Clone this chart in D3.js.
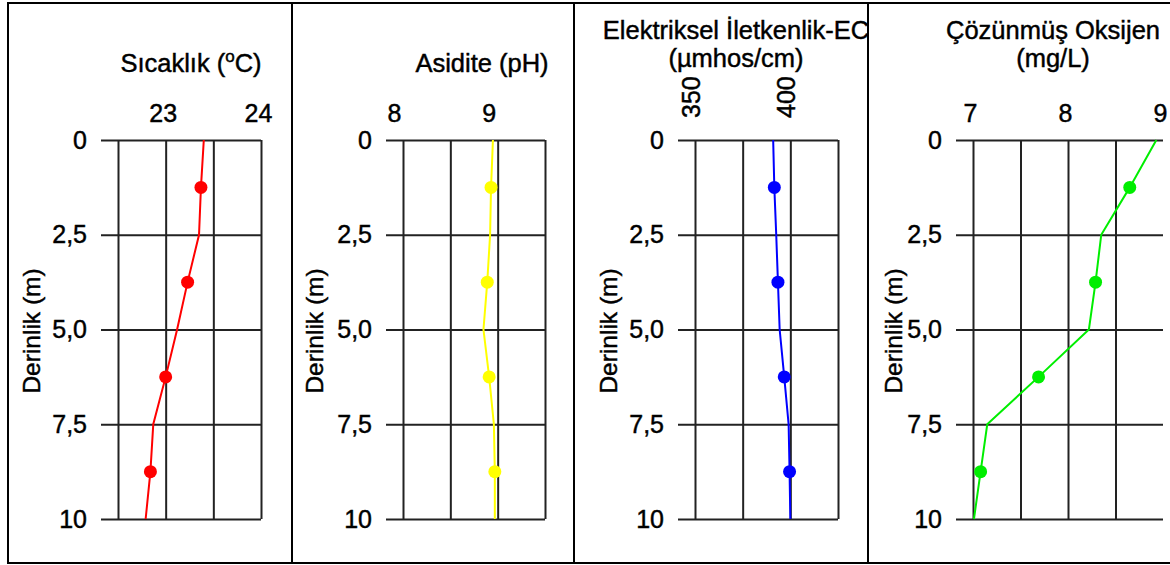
<!DOCTYPE html>
<html>
<head>
<meta charset="utf-8">
<script src="https://cdn.jsdelivr.net/npm/d3@7"></script>
<style>
  body { margin: 0; background: #fff; }
  text { font-family: "Liberation Sans", Arial, sans-serif; fill: #000; stroke: #000; stroke-width: 0.45px; }
</style>
</head>
<body>
<div id="chart"></div>
<script>
// depth profile (m) - line goes through every depth, dots only on the measured ones
const depths = [0, 1.25, 2.5, 3.75, 5, 6.25, 7.5, 8.75, 10];
const markerDepths = [1.25, 3.75, 6.25, 8.75];

const temperature = [23.40, 23.37, 23.35, 23.23, 23.12, 23.00, 22.87, 22.84, 22.79];
const ph = [8.95, 8.93, 8.92, 8.89, 8.85, 8.91, 8.96, 8.97, 8.97];
const ec = [391.0, 391.6, 392.6, 393.5, 394.4, 396.8, 399.1, 399.6, 400.0];
const oxygen = [8.93, 8.65, 8.35, 8.29, 8.22, 7.69, 7.15, 7.08, 7.01];

const depthTicks = [0, 2.5, 5, 7.5, 10];
const depthLabels = ["0", "2,5", "5,0", "7,5", "10"];

const tempGrid = [22.5, 23, 23.5, 24], tempLabels = [23, 24];
const phGrid = [8, 8.5, 9, 9.5], phLabels = [8, 9];
const ecGrid = [350, 375, 400, 425], ecLabels = [350, 400];
const oxyGrid = [7, 7.5, 8, 8.5], oxyLabels = [7, 8, 9];

const w = 1170, h = 565;
const plotTop = 140, plotBottom = 519;

const svg = d3.select("#chart").append("svg")
  .attr("width", w)
  .attr("height", h);

// outer frame + dividers
svg.append("rect")
  .attr("x", 8).attr("y", 3)
  .attr("width", 1180).attr("height", 560)
  .attr("fill", "none").attr("stroke", "#000").attr("stroke-width", 2);
[292, 574, 868].forEach(x => {
  svg.append("line")
    .attr("x1", x).attr("x2", x).attr("y1", 3).attr("y2", 563)
    .attr("stroke", "#000").attr("stroke-width", 2);
});

const yScale = d3.scaleLinear().domain([0, 10]).range([plotTop, plotBottom]);

const panels = [
  { values: temperature, color: "#ff0000", domain: [22.5, 24], left: 118, right: 261,
    grid: tempGrid, labels: tempLabels, shift: -3, yTitleX: 40,
    title: ["Sıcaklık"], titleX: 191 },
  { values: ph, color: "#ffff00", domain: [8, 9.5], left: 403, right: 545,
    grid: phGrid, labels: phLabels, shift: -9, yTitleX: 323,
    title: ["Asidite (pH)"], titleX: 482 },
  { values: ec, color: "#0000ff", domain: [350, 425], left: 695, right: 838,
    grid: ecGrid, labels: ecLabels, shift: -5, yTitleX: 617, rotate: true,
    title: ["Elektriksel İletkenlik-EC", "(µmhos/cm)"], titleX: 736 },
  { values: oxygen, color: "#00ee00", domain: [7, 9], left: 973, right: 1163,
    grid: oxyGrid, labels: oxyLabels, shift: -3, yTitleX: 902,
    title: ["Çözünmüş Oksijen", "(mg/L)"], titleX: 1053 }
];

panels.forEach((p, pi) => {
  const x = d3.scaleLinear().domain(p.domain).range([p.left, p.right]);
  const hStart = p.left - 17;
  const g = svg.append("g");

  // horizontal lines + depth labels
  const yAxis = d3.axisLeft(yScale)
    .tickValues(depthTicks)
    .tickFormat((d, i) => depthLabels[i])
    .tickSize(p.right - hStart)
    .tickPadding(14);
  const ya = g.append("g")
    .attr("transform", "translate(" + p.right + ",0)")
    .call(yAxis);
  ya.select(".domain").remove();
  ya.selectAll("line").attr("stroke", "#222").attr("stroke-width", 2);
  ya.selectAll("text").style("font-size", "25px").attr("fill", "#000");

  // vertical grid
  const gx = g.append("g")
    .attr("transform", "translate(0," + plotTop + ")")
    .call(d3.axisTop(x).tickValues(p.grid).tickFormat("").tickSize(-(plotBottom - plotTop)));
  gx.select(".domain").remove();
  gx.selectAll("line").attr("stroke", "#222").attr("stroke-width", 2);

  // value labels on top
  const lx = g.append("g")
    .attr("transform", "translate(" + p.shift + "," + (plotTop - 18) + ")")
    .call(d3.axisTop(x).tickValues(p.labels).tickFormat(d3.format("d")).tickSize(0).tickPadding(0));
  lx.select(".domain").remove();
  lx.selectAll("text").style("font-size", "25px").attr("fill", "#000");
  if (p.rotate) {
    lx.selectAll("text")
      .attr("transform", "rotate(-90)")
      .attr("text-anchor", "start")
      .attr("x", 4)
      .attr("y", 0)
      .attr("dy", "0.36em");
  }

  // depth title
  g.append("text")
    .attr("transform", "translate(" + p.yTitleX + "," + 331 + ") rotate(-90)")
    .attr("text-anchor", "middle")
    .style("font-size", "24.5px")
    .text("Derinlik (m)");

  // panel title
  if (pi === 0) {
    const t = g.append("text")
      .attr("x", p.titleX).attr("y", 72)
      .attr("text-anchor", "middle")
      .style("font-size", "25.5px");
    t.append("tspan").text("Sıcaklık (");
    t.append("tspan").attr("dy", -10).style("font-size", "17px").text("o");
    t.append("tspan").attr("dy", 10).text("C)");
  } else if (p.title.length === 1) {
    g.append("text")
      .attr("x", p.titleX).attr("y", 72)
      .attr("text-anchor", "middle")
      .style("font-size", "25.5px")
      .text(p.title[0]);
  } else {
    p.title.forEach((s, i) => {
      g.append("text")
        .attr("x", p.titleX).attr("y", 39 + i * 28)
        .attr("text-anchor", "middle")
        .style("font-size", "25.5px")
        .text(s);
    });
  }

  // profile line
  const pts = depths.map((d, i) => [p.values[i], d]);
  g.append("path")
    .datum(pts)
    .attr("fill", "none")
    .attr("stroke", p.color)
    .attr("stroke-width", 2)
    .attr("d", d3.line().x(d => x(d[0])).y(d => yScale(d[1])));

  g.selectAll("circle")
    .data(pts.filter(d => markerDepths.includes(d[1])))
    .enter()
    .append("circle")
    .attr("cx", d => x(d[0]))
    .attr("cy", d => yScale(d[1]))
    .attr("r", 6.5)
    .attr("fill", p.color);
});
</script>
</body>
</html>
